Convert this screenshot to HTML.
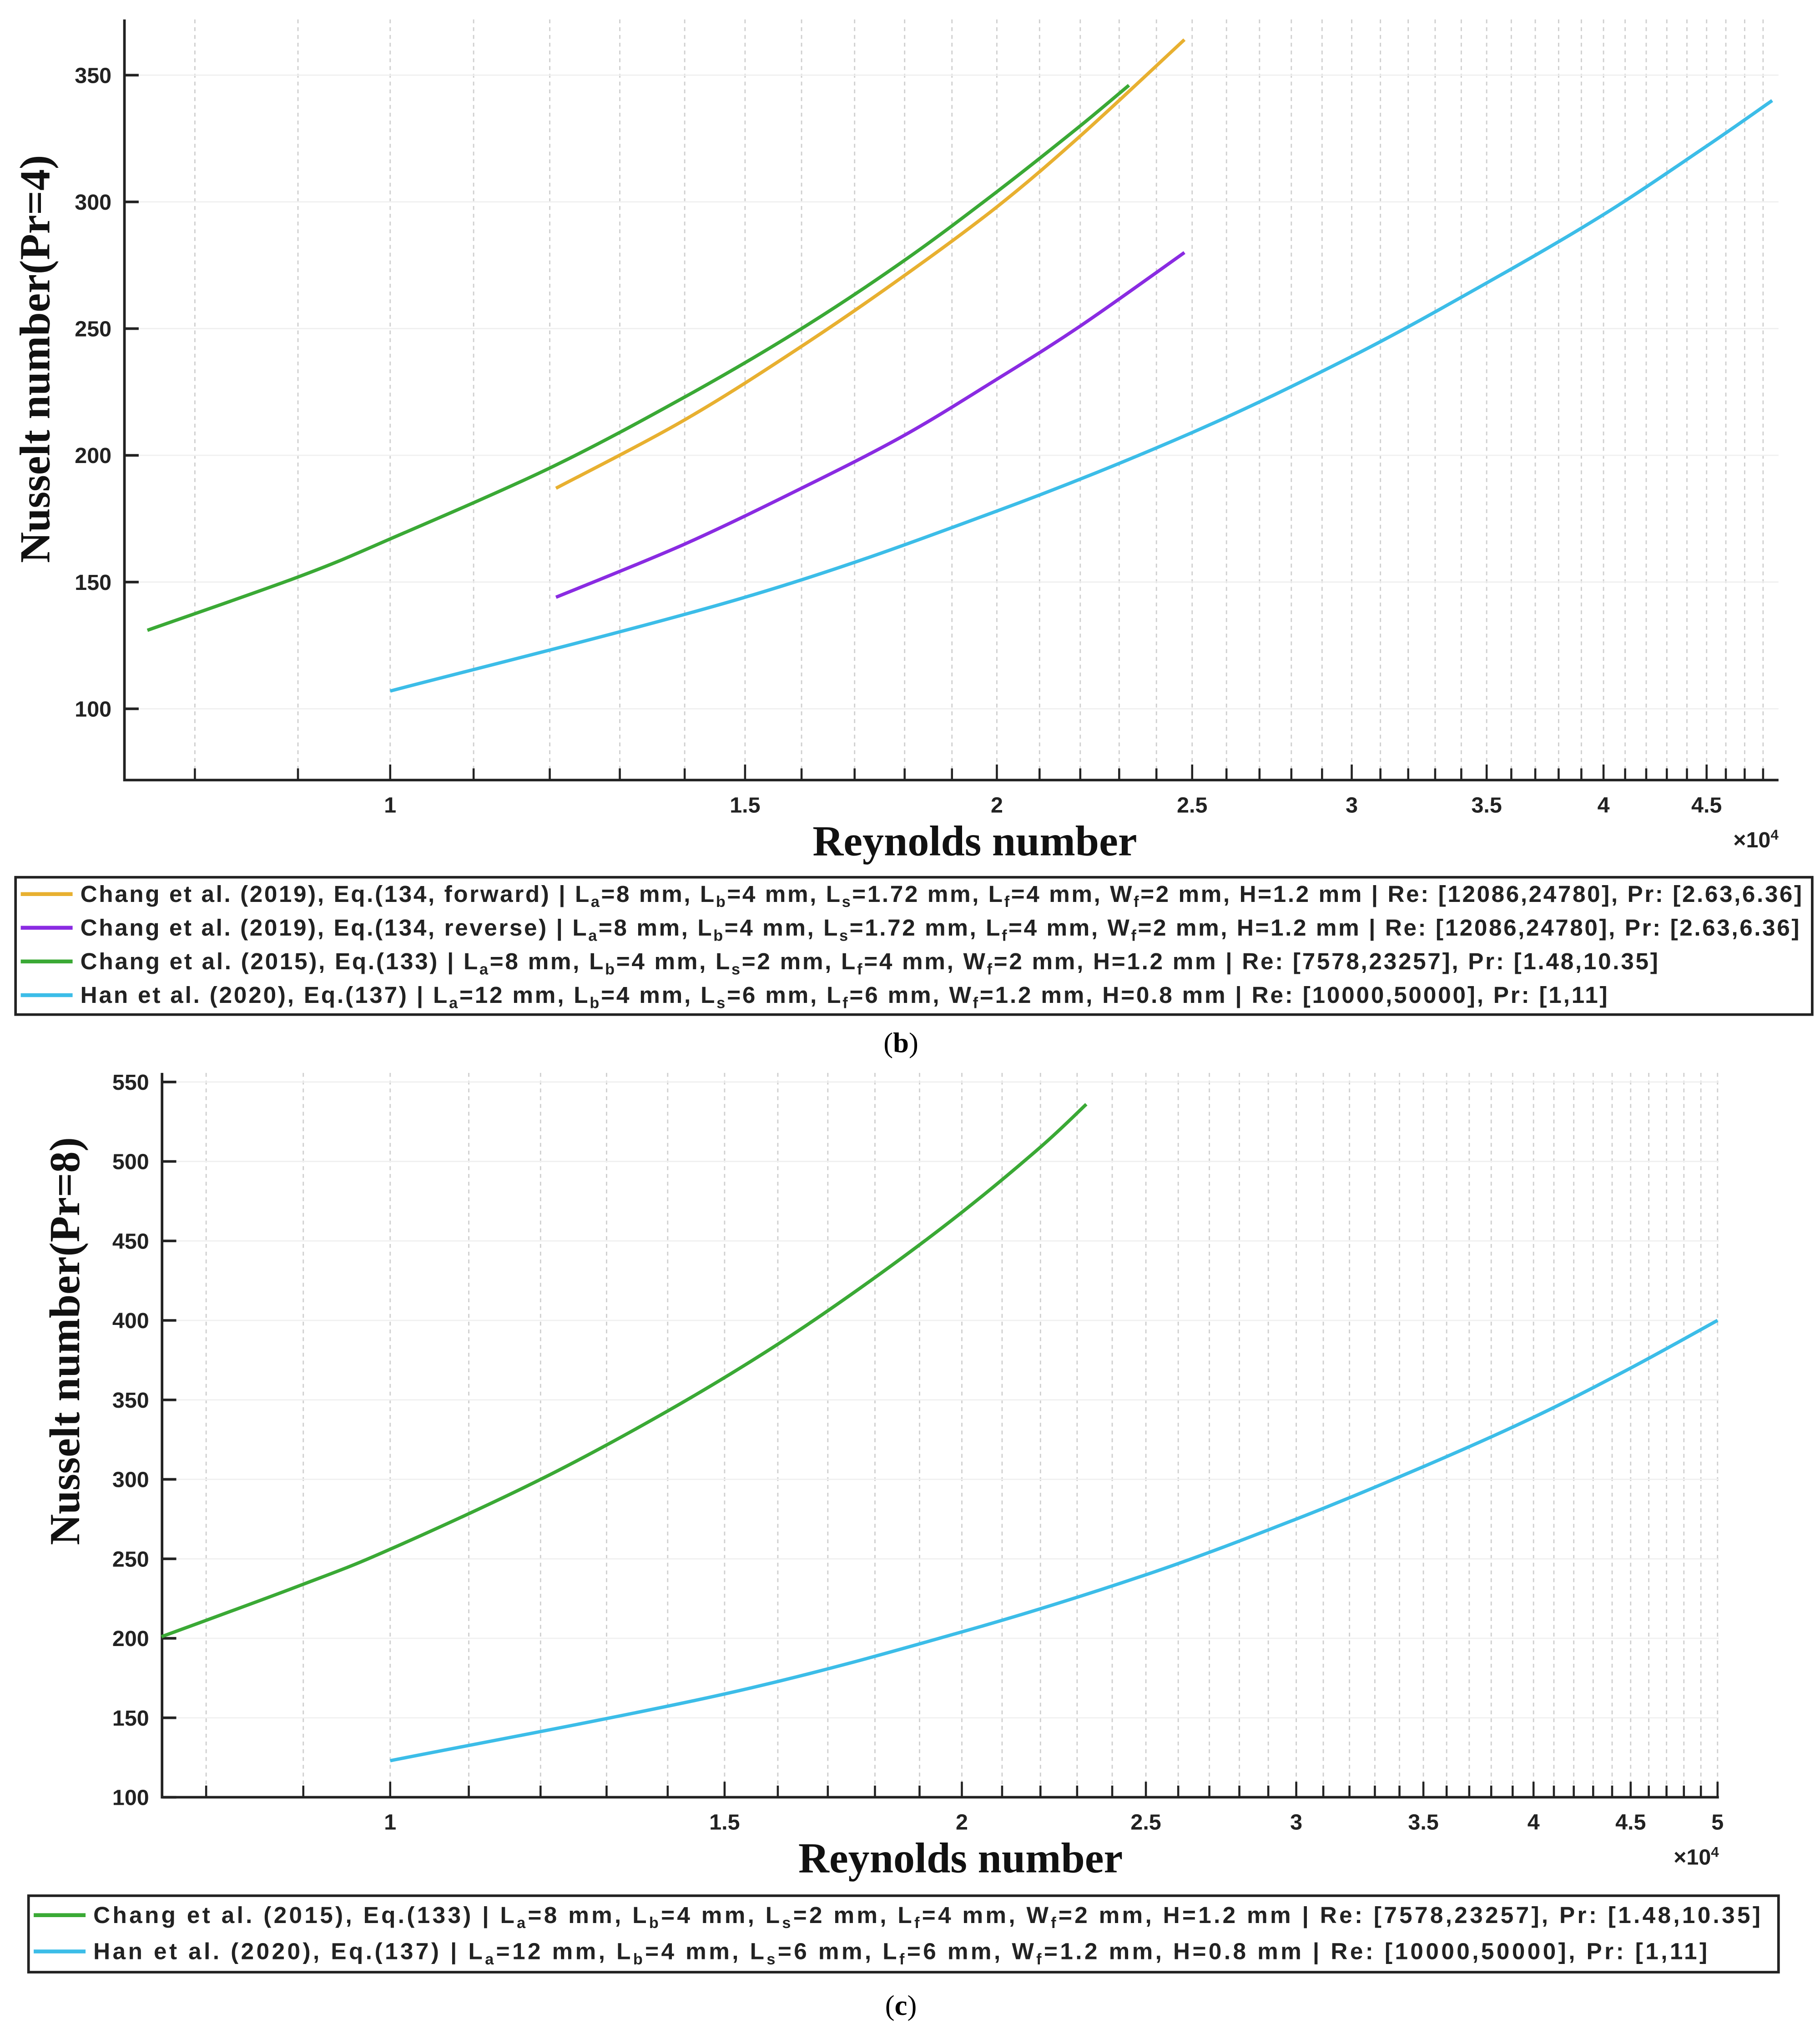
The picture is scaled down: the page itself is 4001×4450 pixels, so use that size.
<!DOCTYPE html>
<html><head><meta charset="utf-8"><style>
html,body{margin:0;padding:0;background:#fff;}
svg{display:block;}
.tk{font-family:"Liberation Sans Narrow","Liberation Sans",sans-serif;font-weight:bold;font-size:17px;fill:#222;}
.lab{font-family:"Liberation Serif",serif;font-weight:bold;font-size:33px;fill:#111;}
.lg{font-family:"Liberation Sans Narrow","Liberation Sans",sans-serif;font-weight:bold;font-size:18px;fill:#222;}
</style></head><body>
<svg id="fig" width="4001" height="4450" viewBox="0 0 1404 1562" preserveAspectRatio="none" xmlns="http://www.w3.org/2000/svg">
<rect width="1404" height="1562" fill="#fff"/>
<g id="chartB"></g>
<g id="chartC"></g>
<text x="695" y="812" text-anchor="middle" font-family="Liberation Serif,serif" font-size="22">(<tspan font-weight="bold">b</tspan>)</text>
<text x="695" y="1555" text-anchor="middle" font-family="Liberation Serif,serif" font-size="22">(<tspan font-weight="bold">c</tspan>)</text>
</svg>
<script>
// ---- data: panel (b), Pr=4 ----
const bYTicks=[100,150,200,250,300,350];
const bXTicks=[1,1.5,2,2.5,3,3.5,4,4.5];
const bYellowRe=[12086,14000,16000,18000,20000,22000,24780];
const bYellowNu=[187,214,243,271,298,326,364];
const bPurpleRe=[12086,14000,16000,18000,20000,22000,24780];
const bPurpleNu=[144,165,187,208,230,251,280];
const bGreenRe=[7578,9000,10000,12000,14000,16000,18000,20000,22000,23257];
const bGreenNu=[131,152,167,195,223,250,277,304,330,346];
const bCyanRe=[10000,15000,20000,25000,30000,35000,40000,45000,48500];
const bCyanNu=[107,144,178,209,239,268,295,322,340];
// ---- data: panel (c), Pr=8 ----
const cYTicks=[100,150,200,250,300,350,400,450,500,550];
const cXTicks=[1,1.5,2,2.5,3,3.5,4,4.5,5];
const cGreenRe=[7578,9000,10000,12000,14000,16000,18000,20000,22000,23257];
const cGreenNu=[201,234,256,300,343,385,427,468,509,536];
const cCyanRe=[10000,15000,20000,25000,30000,35000,40000,45000,50000];
const cCyanNu=[123,165,204,240,275,308,339,370,400];

const NS="http://www.w3.org/2000/svg";
function mk(p,tag,at,txt){const e=document.createElementNS(NS,tag);for(const k in at)e.setAttribute(k,at[k]);if(txt!==undefined)e.textContent=txt;p.appendChild(e);return e;}
function smooth(pts){
  let d='M'+pts[0][0].toFixed(1)+','+pts[0][1].toFixed(1);
  for(let i=0;i<pts.length-1;i++){
    const p0=pts[Math.max(0,i-1)],p1=pts[i],p2=pts[i+1],p3=pts[Math.min(pts.length-1,i+2)];
    const c1=[p1[0]+(p2[0]-p0[0])/6,p1[1]+(p2[1]-p0[1])/6];
    const c2=[p2[0]-(p3[0]-p1[0])/6,p2[1]-(p3[1]-p1[1])/6];
    d+=`C${c1[0].toFixed(1)},${c1[1].toFixed(1)} ${c2[0].toFixed(1)},${c2[1].toFixed(1)} ${p2[0].toFixed(1)},${p2[1].toFixed(1)}`;
  }
  return d;
}

function chart(g,cfg){
  const X=re=>cfg.x10k+cfg.oct*Math.log2(re/10000);
  const Y=v=>cfg.y0+(cfg.v0-v)*cfg.py;
  for(let r=8000;r<=cfg.reMax;r+=1000){
    const x=X(r); if(x<cfg.L+2||x>cfg.R-1)continue;
    const gl=mk(g,'line',{x1:x,x2:x,y1:cfg.T,y2:cfg.B,stroke:'#cfcfcf','stroke-width':1,'stroke-dasharray':'3,3'});
    
    
    const tl=mk(g,'line',{x1:x,x2:x,y1:cfg.B,y2:cfg.B-(r%5000===0?12:9),stroke:'#222','stroke-width':1.6});
    
    
  }
  cfg.yTicks.forEach(v=>{
    const y=Y(v);
    const hl=mk(g,'line',{x1:cfg.L,x2:cfg.R,y1:y,y2:y,stroke:'#f0f0f0','stroke-width':1});
    
    
    const t=mk(g,'line',{x1:cfg.L,x2:cfg.L+11,y1:y,y2:y,stroke:'#222','stroke-width':2});
    
    
    const l=mk(g,'text',{x:cfg.L-10,y:y+6,'text-anchor':'end',class:'tk'},String(v));
    
    
  });
  cfg.xTicks.forEach(v=>{
    const l=mk(g,'text',{x:X(v*10000),y:cfg.B+25,'text-anchor':'middle',class:'tk'},String(v));
    
    
  });
  const ax=mk(g,'path',{d:`M${cfg.L},${cfg.T}V${cfg.B}H${cfg.R}`,fill:'none',stroke:'#222','stroke-width':2});
  
  
  cfg.series.forEach(s=>{
    const pts=s.re.map((r,i)=>[X(r),Y(s.nu[i])]);
    const p=mk(g,'path',{d:smooth(pts),fill:'none',stroke:s.c,'stroke-width':2.6,'stroke-linejoin':'round'});
    
    
  });
  const xl=mk(g,'text',{x:cfg.xlx,y:cfg.B+58,'text-anchor':'middle',class:'lab'},'Reynolds number');
  
  
  const ex=mk(g,'text',{x:cfg.R,y:cfg.B+52,'text-anchor':'end',class:'tk','font-size':15});
  ex.innerHTML='×10<tspan font-size="11" dy="-6">4</tspan>';
  
  
  const yl=mk(g,'text',{x:0,y:0,'text-anchor':'middle',class:'lab',transform:`translate(${cfg.ylx},${cfg.yly}) rotate(-90)`},cfg.ytitle);
  
  
  const lb=mk(g,'rect',{x:cfg.lg.x,y:cfg.lg.y,width:cfg.lg.w,height:cfg.lg.h,fill:'#fff',stroke:'#222','stroke-width':2});
  
  
  cfg.lg.rows.forEach((r,i)=>{
    const y=cfg.lg.y0+i*cfg.lg.dy;
    const ln=mk(g,'line',{x1:cfg.lg.x+4,x2:cfg.lg.x+44,y1:y,y2:y,stroke:r.c,'stroke-width':3});
    
    
    const t=mk(g,'text',{x:cfg.lg.x+50,y:y+6,class:'lg',textLength:r.w,lengthAdjust:'spacing'});
    t.innerHTML=r.h;
    
    
  });
}
function sub(s){return `<tspan font-size="12" dy="4">${s}</tspan><tspan dy="-4">`;}
function params(a,s,f,w,h){return `L${sub('a')}=${a} mm,</tspan> L${sub('b')}=4 mm,</tspan> L${sub('s')}=${s} mm,</tspan> L${sub('f')}=${f} mm,</tspan> W${sub('f')}=${w} mm,</tspan> H=${h} mm`;}
const rowF='Chang et al. (2019), Eq.(134, forward) | '+params(8,'1.72',4,2,'1.2')+' | Re: [12086,24780], Pr: [2.63,6.36]';
const rowR='Chang et al. (2019), Eq.(134, reverse) | '+params(8,'1.72',4,2,'1.2')+' | Re: [12086,24780], Pr: [2.63,6.36]';
const rowG='Chang et al. (2015), Eq.(133) | '+params(8,'2',4,2,'1.2')+' | Re: [7578,23257], Pr: [1.48,10.35]';
const rowH='Han et al. (2020), Eq.(137) | '+params(12,'6',6,'1.2','0.8')+' | Re: [10000,50000], Pr: [1,11]';

chart(document.getElementById('chartB'),{
  L:96,R:1372,T:15,B:602,x10k:301,oct:468,y0:58,v0:350,py:1.956,reMax:48850,
  yTicks:bYTicks,xTicks:bXTicks,xlx:752,ylx:38,yly:277,ytitle:'Nusselt number(Pr=4)',
  series:[{re:bGreenRe,nu:bGreenNu,c:'#3aa935',name:'line-chang-2015'},
          {re:bYellowRe,nu:bYellowNu,c:'#e8b030',name:'line-chang-2019-forward'},
          {re:bPurpleRe,nu:bPurpleNu,c:'#8a2be2',name:'line-chang-2019-reverse'},
          {re:bCyanRe,nu:bCyanNu,c:'#3cbde8',name:'line-han-2020'}],
  lg:{x:12,y:677,w:1386,h:106,y0:690,dy:26,rows:[
    {c:'#e8b030',h:rowF,w:1328},{c:'#8a2be2',h:rowR,w:1326},{c:'#3aa935',h:rowG,w:1217},{c:'#3cbde8',h:rowH,w:1178}]}
});
chart(document.getElementById('chartC'),{
  L:125,R:1326,T:828,B:1387,x10k:301,oct:441,y0:835,v0:550,py:1.2267,reMax:50000,
  yTicks:cYTicks,xTicks:cXTicks,xlx:741,ylx:61,yly:1035,ytitle:'Nusselt number(Pr=8)',
  series:[{re:cGreenRe,nu:cGreenNu,c:'#3aa935',name:'line-chang-2015'},
          {re:cCyanRe,nu:cCyanNu,c:'#3cbde8',name:'line-han-2020'}],
  lg:{x:22,y:1463,w:1350,h:59,y0:1478,dy:28,rows:[
    {c:'#3aa935',h:rowG,w:1286},{c:'#3cbde8',h:rowH,w:1245}]}
});
</script>
</body></html>
